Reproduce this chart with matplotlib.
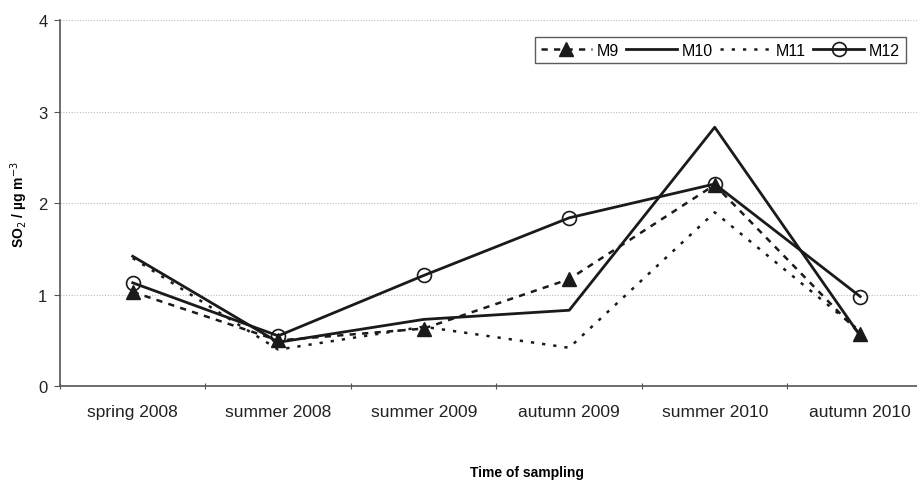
import numpy as np
import matplotlib.pyplot as plt

plt.rcParams['font.family'] = ['Liberation Sans', 'DejaVu Sans']

periods = ['spring 2008', 'summer 2008', 'summer 2009', 'autumn 2009',
           'summer 2010', 'autumn 2010']
m9 = [1.03, 0.50, 0.63, 1.17, 2.20, 0.57]
m10 = [1.42, 0.48, 0.73, 0.83, 2.83, 0.55]
m11 = [1.40, 0.40, 0.65, 0.42, 1.90, 0.60]
m12 = [1.13, 0.55, 1.21, 1.84, 2.21, 0.98]

fig = plt.figure(figsize=(9.17, 4.81), dpi=100)
ax = fig.add_axes([0.0654, 0.195, 0.952, 0.761])

x = np.arange(len(periods))
ax.plot(x, m9, color='#1a1a1a', lw=1.8, linestyle=(0, (2.5, 2.5)),
        marker='^', ms=10, mfc='#1a1a1a', mec='#1a1a1a', label='M9')
ax.plot(x, m10, color='#1a1a1a', lw=2.0, label='M10')
ax.plot(x, m11, color='#1a1a1a', lw=1.8, linestyle=(0, (1.3, 3.2)), label='M11')
ax.plot(x, m12, color='#1a1a1a', lw=2.0, marker='o', ms=10, mfc='none',
        mec='#1a1a1a', mew=1.2, label='M12')

ax.set_xlim(-0.5, 5.5)
ax.set_ylim(0, 4)
ax.set_yticks([0, 1, 2, 3, 4])
ax.yaxis.grid(True, linestyle=(0, (1, 1.5)), color='#bbbbbb', lw=0.8)
ax.set_axisbelow(True)

ax.set_xticks(np.arange(-0.5, 6.0, 1.0))
ax.set_xticklabels([])
ax.set_xticks(x, minor=True)
ax.set_xticklabels(periods, minor=True, fontsize=12.5, color='#222222')
ax.tick_params(axis='x', which='minor', length=0, pad=13)
ax.tick_params(axis='x', which='major', length=4, direction='inout', color='#555555')
ax.tick_params(axis='y', length=4, direction='out', labelsize=12, pad=5,
               color='#555555', labelcolor='#222222')

for s in ['top', 'right']:
    ax.spines[s].set_visible(False)
ax.spines['left'].set_color('#555555')
ax.spines['bottom'].set_color('#555555')
ax.spines['left'].set_linewidth(1.2)
ax.spines['bottom'].set_linewidth(1.2)

ax.set_ylabel(r'SO$_2$ / µg m$^{-3}$', fontsize=10, fontweight='bold', labelpad=6)
fig.text(0.575, 0.008, 'Time of sampling', ha='center', fontsize=10, fontweight='bold')

leg = ax.legend(ncol=4, loc='upper right', bbox_to_anchor=(0.978, 0.975),
                frameon=True, fancybox=False, edgecolor='#333333', fontsize=11.5,
                handlelength=3.2, handletextpad=0.3, columnspacing=0.45,
                borderpad=0.35)
leg.get_frame().set_linewidth(1.0)

fig.savefig('out.png', dpi=100)
